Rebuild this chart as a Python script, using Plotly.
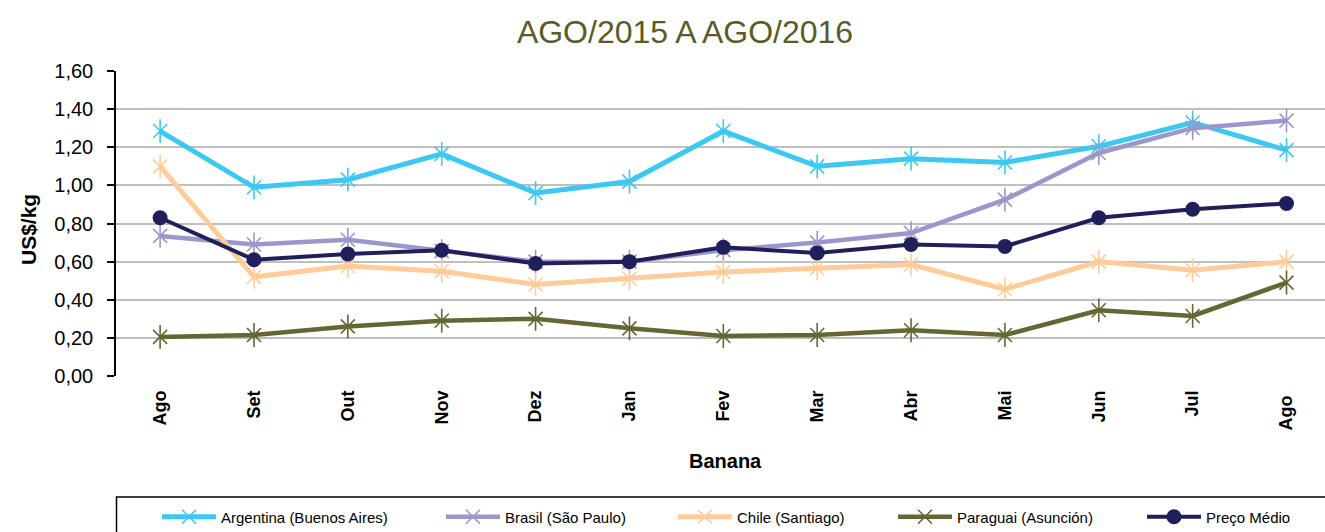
import plotly.graph_objects as go

months = ["Ago", "Set", "Out", "Nov", "Dez", "Jan", "Fev", "Mar", "Abr", "Mai", "Jun", "Jul", "Ago "]
argentina = [1.285, 0.99, 1.03, 1.165, 0.96, 1.02, 1.285, 1.10, 1.14, 1.12, 1.205, 1.33, 1.185]
brasil = [0.735, 0.69, 0.715, 0.655, 0.60, 0.60, 0.66, 0.70, 0.75, 0.925, 1.17, 1.30, 1.34]
chile = [1.10, 0.52, 0.577, 0.55, 0.48, 0.51, 0.545, 0.565, 0.585, 0.455, 0.60, 0.555, 0.60]
paraguai = [0.205, 0.215, 0.26, 0.29, 0.30, 0.25, 0.21, 0.215, 0.24, 0.215, 0.345, 0.315, 0.49]
preco = [0.83, 0.61, 0.64, 0.66, 0.59, 0.60, 0.675, 0.645, 0.69, 0.68, 0.83, 0.875, 0.905]

series = [
    ("Argentina (Buenos Aires)", argentina, "#3CC8F2", 5, "star"),
    ("Brasil (São Paulo)", brasil, "#9B97CC", 4.5, "star"),
    ("Chile (Santiago)", chile, "#FFCC99", 5, "star"),
    ("Paraguai (Asunción)", paraguai, "#666633", 4.5, "star"),
    ("Preço Médio", preco, "#1F1F5C", 4, "circle"),
]

FONT = "Liberation Sans, Arial, sans-serif"
W, H = 1325, 532
L, T, B = 116, 71, 156
plot_w = W - L
plot_h = H - T - B

def px_x(px):
    return (px - L) / plot_w

def px_y(py):
    return (H - B - py) / plot_h

legend_x = [162, 446, 678, 898, 1147]

fig = go.Figure()
for i, (name, vals, color, lw, kind) in enumerate(series):
    lg = "legend" if i == 0 else f"legend{i+1}"
    if kind == "star":
        fig.add_trace(go.Scatter(
            x=months, y=vals, name=name, mode="lines+markers",
            line=dict(color=color, width=lw),
            marker=dict(symbol="x-thin-open", size=14, color=color, line=dict(color=color, width=1.6)),
            legend=lg,
        ))
        fig.add_trace(go.Scatter(
            x=months, y=vals, mode="markers", showlegend=False, hoverinfo="skip",
            marker=dict(symbol="line-ns-open", size=17, color=color, line=dict(color=color, width=1.6)),
        ))
    else:
        fig.add_trace(go.Scatter(
            x=months, y=vals, name=name, mode="lines+markers",
            line=dict(color=color, width=lw),
            marker=dict(symbol="circle", size=15, color=color),
            legend=lg,
        ))

layout_legends = {}
for i, lx in enumerate(legend_x):
    key = "legend" if i == 0 else f"legend{i+1}"
    layout_legends[key] = dict(
        x=px_x(lx - 5), y=px_y(517), xanchor="left", yanchor="middle",
        orientation="h", bgcolor="rgba(0,0,0,0)", borderwidth=0,
        font=dict(family=FONT, size=15, color="#000000"),
        itemwidth=54, tracegroupgap=0,
    )

fig.update_layout(
    width=W, height=H,
    margin=dict(l=L, r=0, t=T, b=B, autoexpand=False),
    paper_bgcolor="white", plot_bgcolor="white",
    font=dict(family=FONT, color="#000000"),
    separators=",.",
    title=dict(text="AGO/2015 A AGO/2016", x=px_x(685), xref="paper", xanchor="center",
               y=1 - 32 / H, yref="container", yanchor="middle",
               font=dict(family=FONT, size=32, color="#5B5B2A")),
    xaxis=dict(
        type="category", range=[-0.47, 12.41], showgrid=False, showline=False,
        ticks="", tickangle=-90, zeroline=False,
        tickfont=dict(family=FONT, size=18, color="#000000", weight="bold"),
        ticklabelstandoff=10,
    ),
    yaxis=dict(
        range=[0, 1.6], dtick=0.2, tickformat=".2f", showgrid=True,
        gridcolor="#BFBFBF", gridwidth=1.5, zeroline=False,
        showline=True, linecolor="#000000", linewidth=1.5,
        ticks="outside", ticklen=7, tickcolor="#000000", tickwidth=1.5,
        tickfont=dict(family=FONT, size=20, color="#000000"),
        ticklabelstandoff=10,
    ),
    annotations=[
        dict(text="<b>US$/kg</b>", x=px_x(28), y=px_y(229), xref="paper", yref="paper",
             textangle=-90, showarrow=False, xanchor="center", yanchor="middle",
             font=dict(family=FONT, size=21, color="#000000")),
        dict(text="<b>Banana</b>", x=px_x(725), y=px_y(461), xref="paper", yref="paper",
             showarrow=False, xanchor="center", yanchor="middle",
             font=dict(family=FONT, size=20, color="#000000")),
    ],
    shapes=[
        dict(type="rect", xref="paper", yref="paper", x0=px_x(116.5), x1=1.05,
             y0=px_y(497), y1=px_y(560), line=dict(color="#000000", width=1.5),
             fillcolor="rgba(0,0,0,0)", layer="above"),
    ],
    **layout_legends,
)

fig.write_html(
    "out.html",
    config={"displayModeBar": False},
    post_script="document.body.style.margin='0';document.body.style.overflow='hidden';",
)
